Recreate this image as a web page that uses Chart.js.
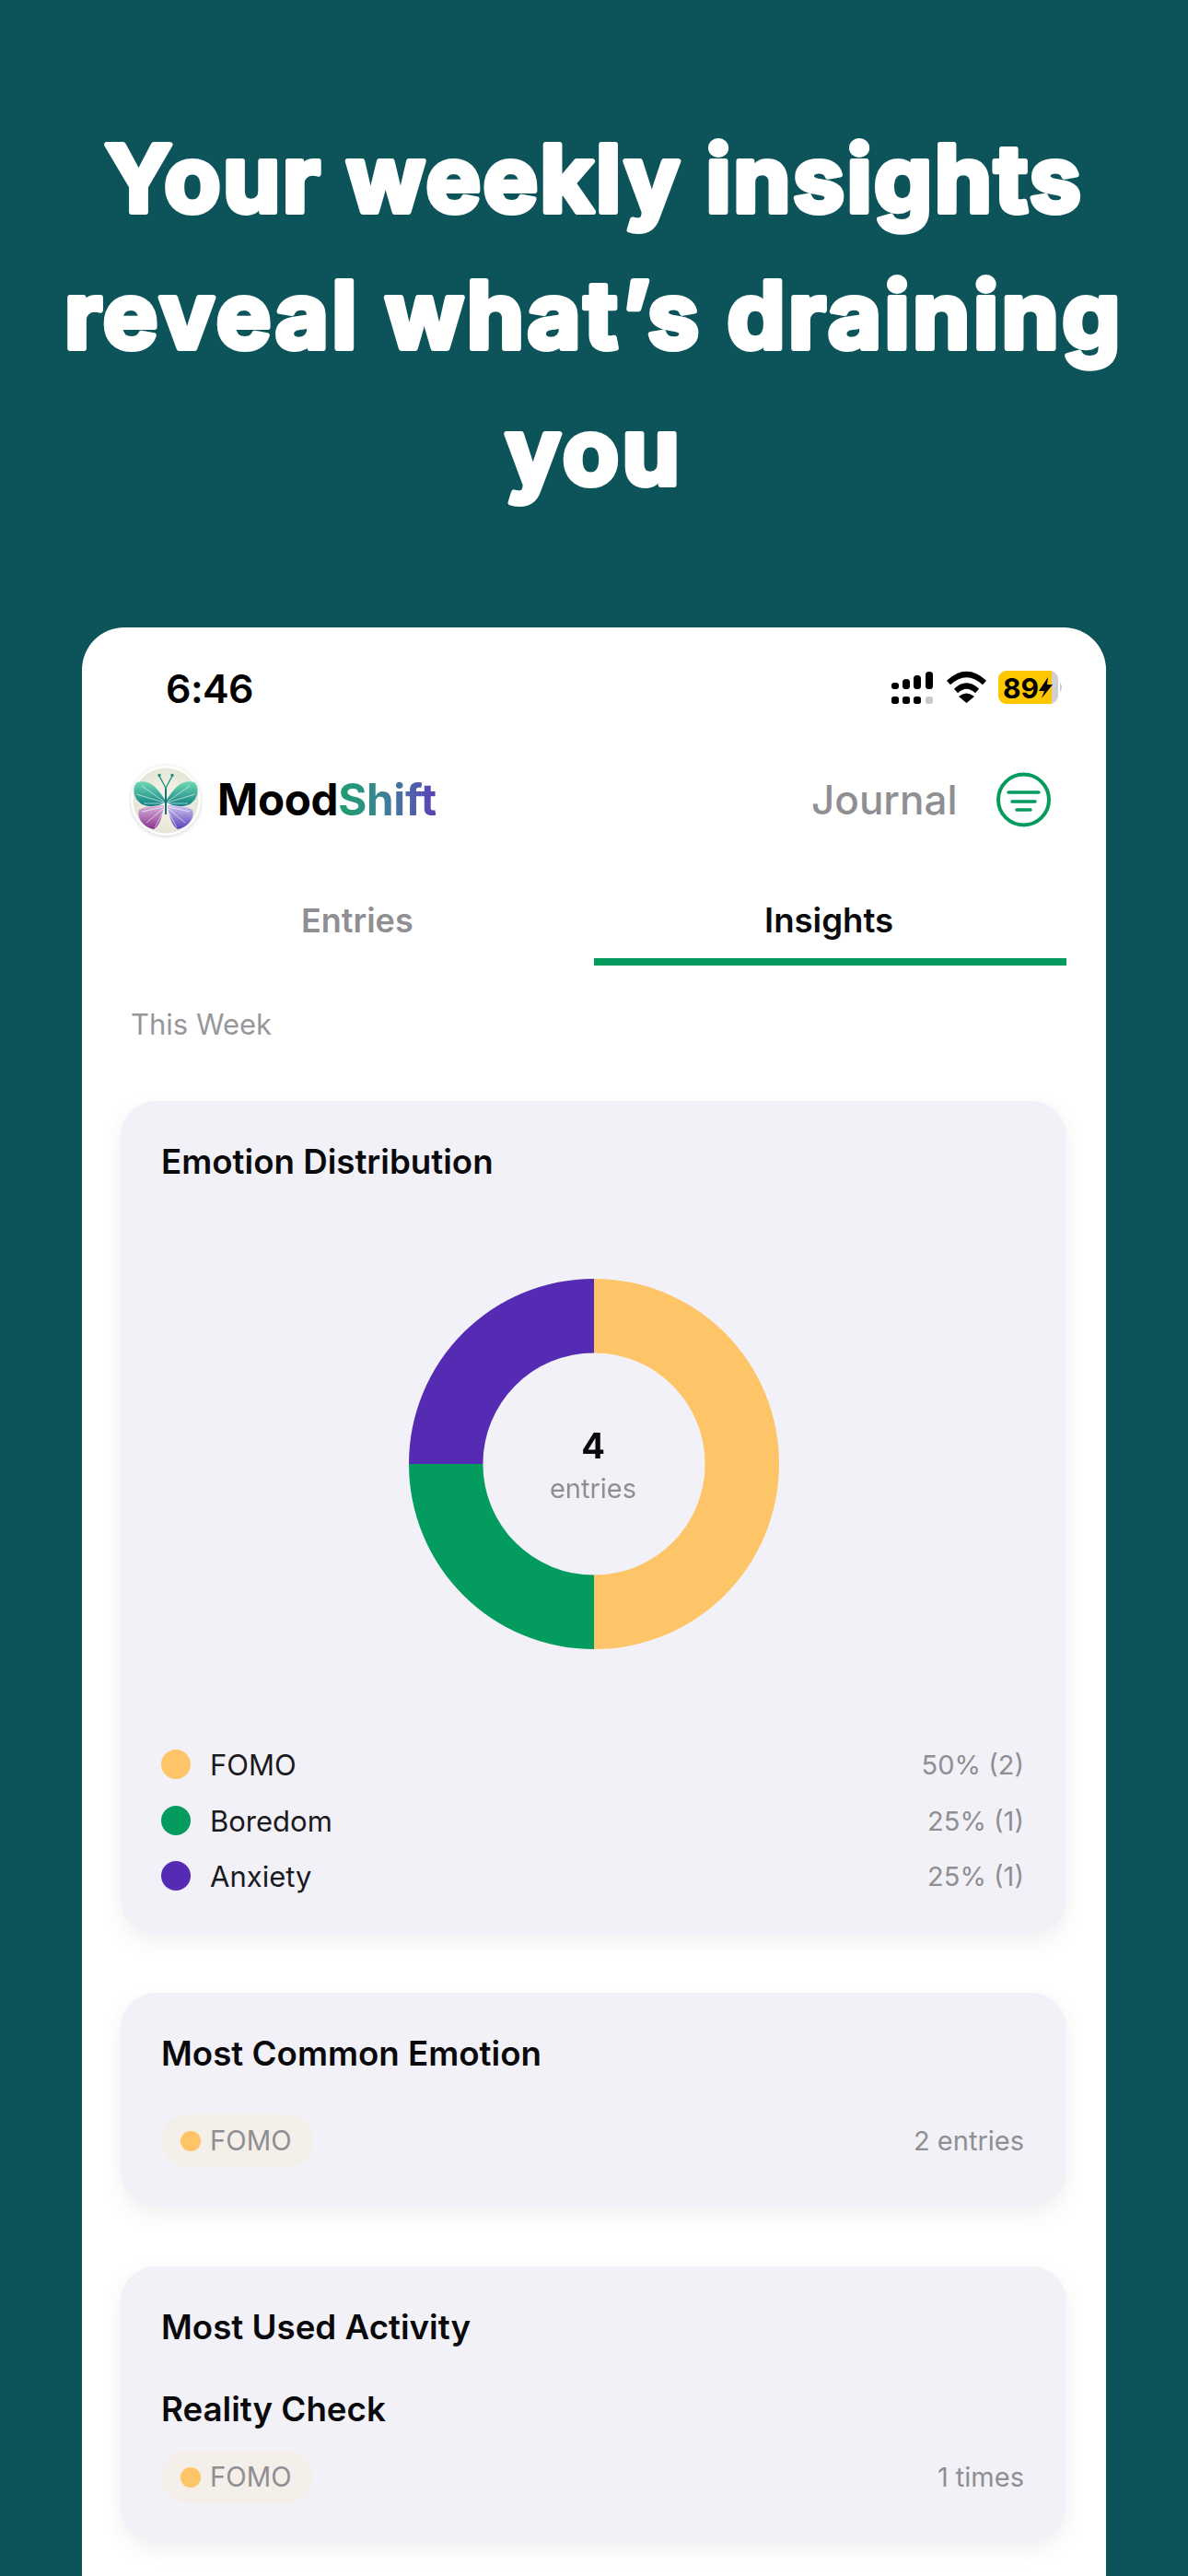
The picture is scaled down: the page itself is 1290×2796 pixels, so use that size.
<!DOCTYPE html>
<html><head><meta charset="utf-8">
<script src="https://cdn.jsdelivr.net/npm/chart.js@4/dist/chart.umd.min.js"></script>
<style>
html,body{margin:0;padding:0;width:1290px;height:2796px;overflow:hidden;background:#0c545a;font-family:Inter,"Noto Sans",sans-serif}
.t{position:absolute;white-space:nowrap;line-height:1}
#head{position:absolute;left:0;top:0}
#head text{font-family:Inter,sans-serif;font-weight:700;font-size:100px;fill:#fff;stroke:#fff;stroke-width:6px;stroke-linejoin:round;stroke-linecap:round;text-anchor:middle;letter-spacing:3.5px}
#phone{position:absolute;left:89px;top:681px;width:1112px;height:2200px;background:#fff;border-radius:46px}
.card{position:absolute;left:131px;width:1027px;background:#f2f1f8;border-radius:38px;box-shadow:0 8px 22px rgba(60,60,80,.08)}
.title{color:#0a0a0c;font-weight:600;font-size:36.7px}
.g{color:#8e8e93}
.pill{position:absolute;left:175px;width:165px;height:57px;border-radius:29px;background:#f4efe8}
.dot{position:absolute;border-radius:50%}
</style></head><body>
<svg id="head" width="1290" height="600" viewBox="0 0 1290 600">
 <text x="645" y="230" style="letter-spacing:2.5px">Your weekly insights</text>
 <text x="645" y="378">reveal what’s draining</text>
 <text x="645" y="526">you</text>
</svg>
<div id="phone"></div>

<div class="t" style="left:180px;top:726px;font-size:43px;font-weight:600;color:#000;letter-spacing:-.6px">6:46</div>
<svg style="position:absolute;left:960px;top:720px" width="200" height="52" viewBox="960 720 200 52">
 <g fill="#000">
  <rect x="968" y="741" width="8" height="7" rx="3"/><rect x="980" y="737" width="8" height="11" rx="3.5"/><rect x="992" y="733" width="8" height="15" rx="3.5"/><rect x="1005" y="729" width="8" height="19" rx="3.5"/>
  <rect x="968" y="756" width="8" height="8" rx="2.5"/><rect x="980" y="756" width="8" height="8" rx="2.5"/><rect x="992" y="756" width="8" height="8" rx="2.5"/>
 </g>
 <rect x="1005" y="756" width="8" height="8" rx="2.5" fill="#c9c9cb"/>
 <g fill="none" stroke="#000" stroke-width="6">
  <path d="M1030 741 Q1049.5 723 1069 741"/><path d="M1038 750 Q1049.5 739 1061 750"/>
 </g>
 <path d="M1041 756 Q1049.5 749 1058 756 L1049.5 763Z" fill="#000"/>
 <rect x="1084" y="728" width="65" height="36" rx="9" fill="#d0d0d2"/>
 <path d="M1093 728H1142V764H1093A9 9 0 0 1 1084 755V737A9 9 0 0 1 1093 728Z" fill="#fdc800"/>
 <path d="M1151 741 Q1155 746 1151 751Z" fill="#c9c9cb"/>
 <path d="M1138 735 L1128 750 H1134 L1131 758 L1143 743 H1137Z" fill="#000"/>
</svg>
<div class="t" style="left:1089px;top:732px;font-size:30px;font-weight:700;color:#000">89</div>

<svg style="position:absolute;left:140px;top:828px" width="80" height="82" viewBox="0 0 80 82">
 <defs>
  <linearGradient id="u" x1="0" y1="0" x2="0" y2="1"><stop offset="0" stop-color="#6fd9b4"/><stop offset="1" stop-color="#0f7f82"/></linearGradient>
  <linearGradient id="l" x1="0" y1="0" x2="0" y2="1"><stop offset="0" stop-color="#d8b6dc"/><stop offset="1" stop-color="#8a2f8f"/></linearGradient>
  <linearGradient id="r" x1="0" y1="0" x2="0" y2="1"><stop offset="0" stop-color="#cfc4f0"/><stop offset="1" stop-color="#5a3fb8"/></linearGradient>
  <radialGradient id="b"><stop offset="0" stop-color="#f7f6ea"/><stop offset="1" stop-color="#e6e6d8"/></radialGradient>
 </defs>
 <circle cx="40" cy="41" r="38" fill="#fff" style="filter:drop-shadow(0 1px 2px rgba(0,0,0,.18))"/>
 <circle cx="40" cy="41" r="35.5" fill="url(#b)"/>
 <path d="M39 40 C30 26 22 18 9 21 C2 28 6 40 14 45 C24 49 33 47 39 43Z" fill="url(#u)"/>
 <path d="M41 40 C50 26 58 18 71 21 C78 28 74 40 66 45 C56 49 47 47 41 43Z" fill="url(#u)"/>
 <path d="M38 46 C30 47 18 46 11 51 C8 60 16 70 27 72 C34 68 37 56 38 46Z" fill="url(#l)"/>
 <path d="M42 46 C50 47 62 46 69 51 C72 60 64 70 53 72 C46 68 43 56 42 46Z" fill="url(#r)"/>
 <g stroke="#fff" stroke-opacity=".65" stroke-width=".9" fill="none">
  <path d="M38 42 L14 25M38 43 L8 34M38 44 L16 44M42 42 L66 25M42 43 L72 34M42 44 L64 44"/>
  <path d="M37 48 L14 53M37 50 L19 65M38 52 L28 70M43 48 L66 53M43 50 L61 65M42 52 L52 70"/>
 </g>
 <path d="M40 28 L40 56" stroke="#1c6f74" stroke-width="2"/>
 <path d="M40 28 C38 22 35 19 33 14M40 28 C42 22 45 19 47 14" stroke="#1b8f85" stroke-width="1.2" fill="none"/>
 <circle cx="33" cy="13.5" r="1.7" fill="#1b8f85"/><circle cx="47" cy="13.5" r="1.7" fill="#1b8f85"/>
</svg>
<div class="t" style="left:236px;top:844px;font-size:47.5px;font-weight:700;color:#000;letter-spacing:-.3px">Mood<span style="background:linear-gradient(90deg,#1f9d6e 0%,#2f8f84 30%,#4a6fa5 65%,#5a3fb8 100%);-webkit-background-clip:text;background-clip:text;color:transparent">Shift</span></div>
<div class="t g" style="left:881px;top:846px;font-size:44px;font-weight:500">Journal</div>
<svg style="position:absolute;left:1080px;top:836px" width="64" height="64" viewBox="1080 836 64 64">
 <circle cx="1111.5" cy="868" r="27.5" fill="none" stroke="#059b5e" stroke-width="4"/>
 <g stroke="#059b5e" stroke-width="3.5" stroke-linecap="round">
  <path d="M1095 860H1128M1099 870H1124M1104 879H1119"/>
 </g>
</svg>
<div class="t g" style="left:327px;top:981px;font-size:36px;font-weight:600">Entries</div>
<div class="t" style="left:830px;top:981px;font-size:36.6px;font-weight:600;color:#0a0a0c">Insights</div>
<div style="position:absolute;left:645px;top:1040px;width:513px;height:8px;background:#059b5e"></div>
<div class="t" style="left:142px;top:1096px;font-size:31px;font-weight:400;color:#97979b">This Week</div>

<div class="card" style="top:1195px;height:905px"></div>
<div class="t title" style="left:175px;top:1243px">Emotion Distribution</div>
<div style="position:absolute;left:444px;top:1388px;width:402px;height:402px"><canvas id="c" width="402" height="402" style="display:block;width:402px;height:402px"></canvas></div>
<div class="t" id="total" style="left:544px;width:200px;text-align:center;top:1550px;font-size:38px;font-weight:700;color:#0a0a0c"></div>
<div class="t g" style="left:544px;width:200px;text-align:center;top:1601px;font-size:29px">entries</div>
<div id="legend"></div>

<div class="card" style="top:2163px;height:232px"></div>
<div class="t title" style="left:175px;top:2211px">Most Common Emotion</div>
<div class="pill" style="top:2295px"></div>
<div class="dot" style="left:196px;top:2313px;width:22px;height:22px;background:#fec568"></div>
<div class="t g" style="left:228px;top:2309px;font-size:29.3px">FOMO</div>
<div class="t g" style="right:178px;top:2309px;font-size:29px">2 entries</div>

<div class="card" style="top:2460px;height:299px"></div>
<div class="t title" style="left:175px;top:2508px">Most Used Activity</div>
<div class="t title" style="left:175px;top:2597px">Reality Check</div>
<div class="pill" style="top:2660px"></div>
<div class="dot" style="left:196px;top:2678px;width:22px;height:22px;background:#fec568"></div>
<div class="t g" style="left:228px;top:2674px;font-size:29.3px">FOMO</div>
<div class="t g" style="right:178px;top:2674px;font-size:29px">1 times</div>

<script>
const emotions = ["FOMO", "Boredom", "Anxiety"];
const entryCounts = [2, 1, 1];
const emotionColors = ["#fec568", "#049b5f", "#552bb4"];
const legendRowY = [1915, 1976, 2036];

const total = entryCounts.reduce((a, b) => a + b, 0);
document.getElementById("total").textContent = total;
const legend = document.getElementById("legend");
emotions.forEach((name, i) => {
  const y = legendRowY[i];
  legend.insertAdjacentHTML("beforeend",
    `<div class="dot" style="left:175px;top:${y-16}px;width:32px;height:32px;background:${emotionColors[i]}"></div>` +
    `<div class="t" style="left:228px;top:${y-15}px;font-size:31px;color:#1a1a1e">${name}</div>` +
    `<div class="t g" style="right:178px;top:${y-14}px;font-size:29px">${Math.round(entryCounts[i] / total * 100)}% (${entryCounts[i]})</div>`);
});
new Chart(document.getElementById("c"), {
  type: "doughnut",
  data: { labels: emotions, datasets: [{ data: entryCounts, backgroundColor: emotionColors, borderWidth: 0, hoverOffset: 0 }] },
  options: {
    responsive: false, animation: false, devicePixelRatio: 1, cutout: "60%",
    layout: { padding: 0 },
    plugins: { legend: { display: false }, tooltip: { enabled: false } }
  }
});
</script>
</body></html>
